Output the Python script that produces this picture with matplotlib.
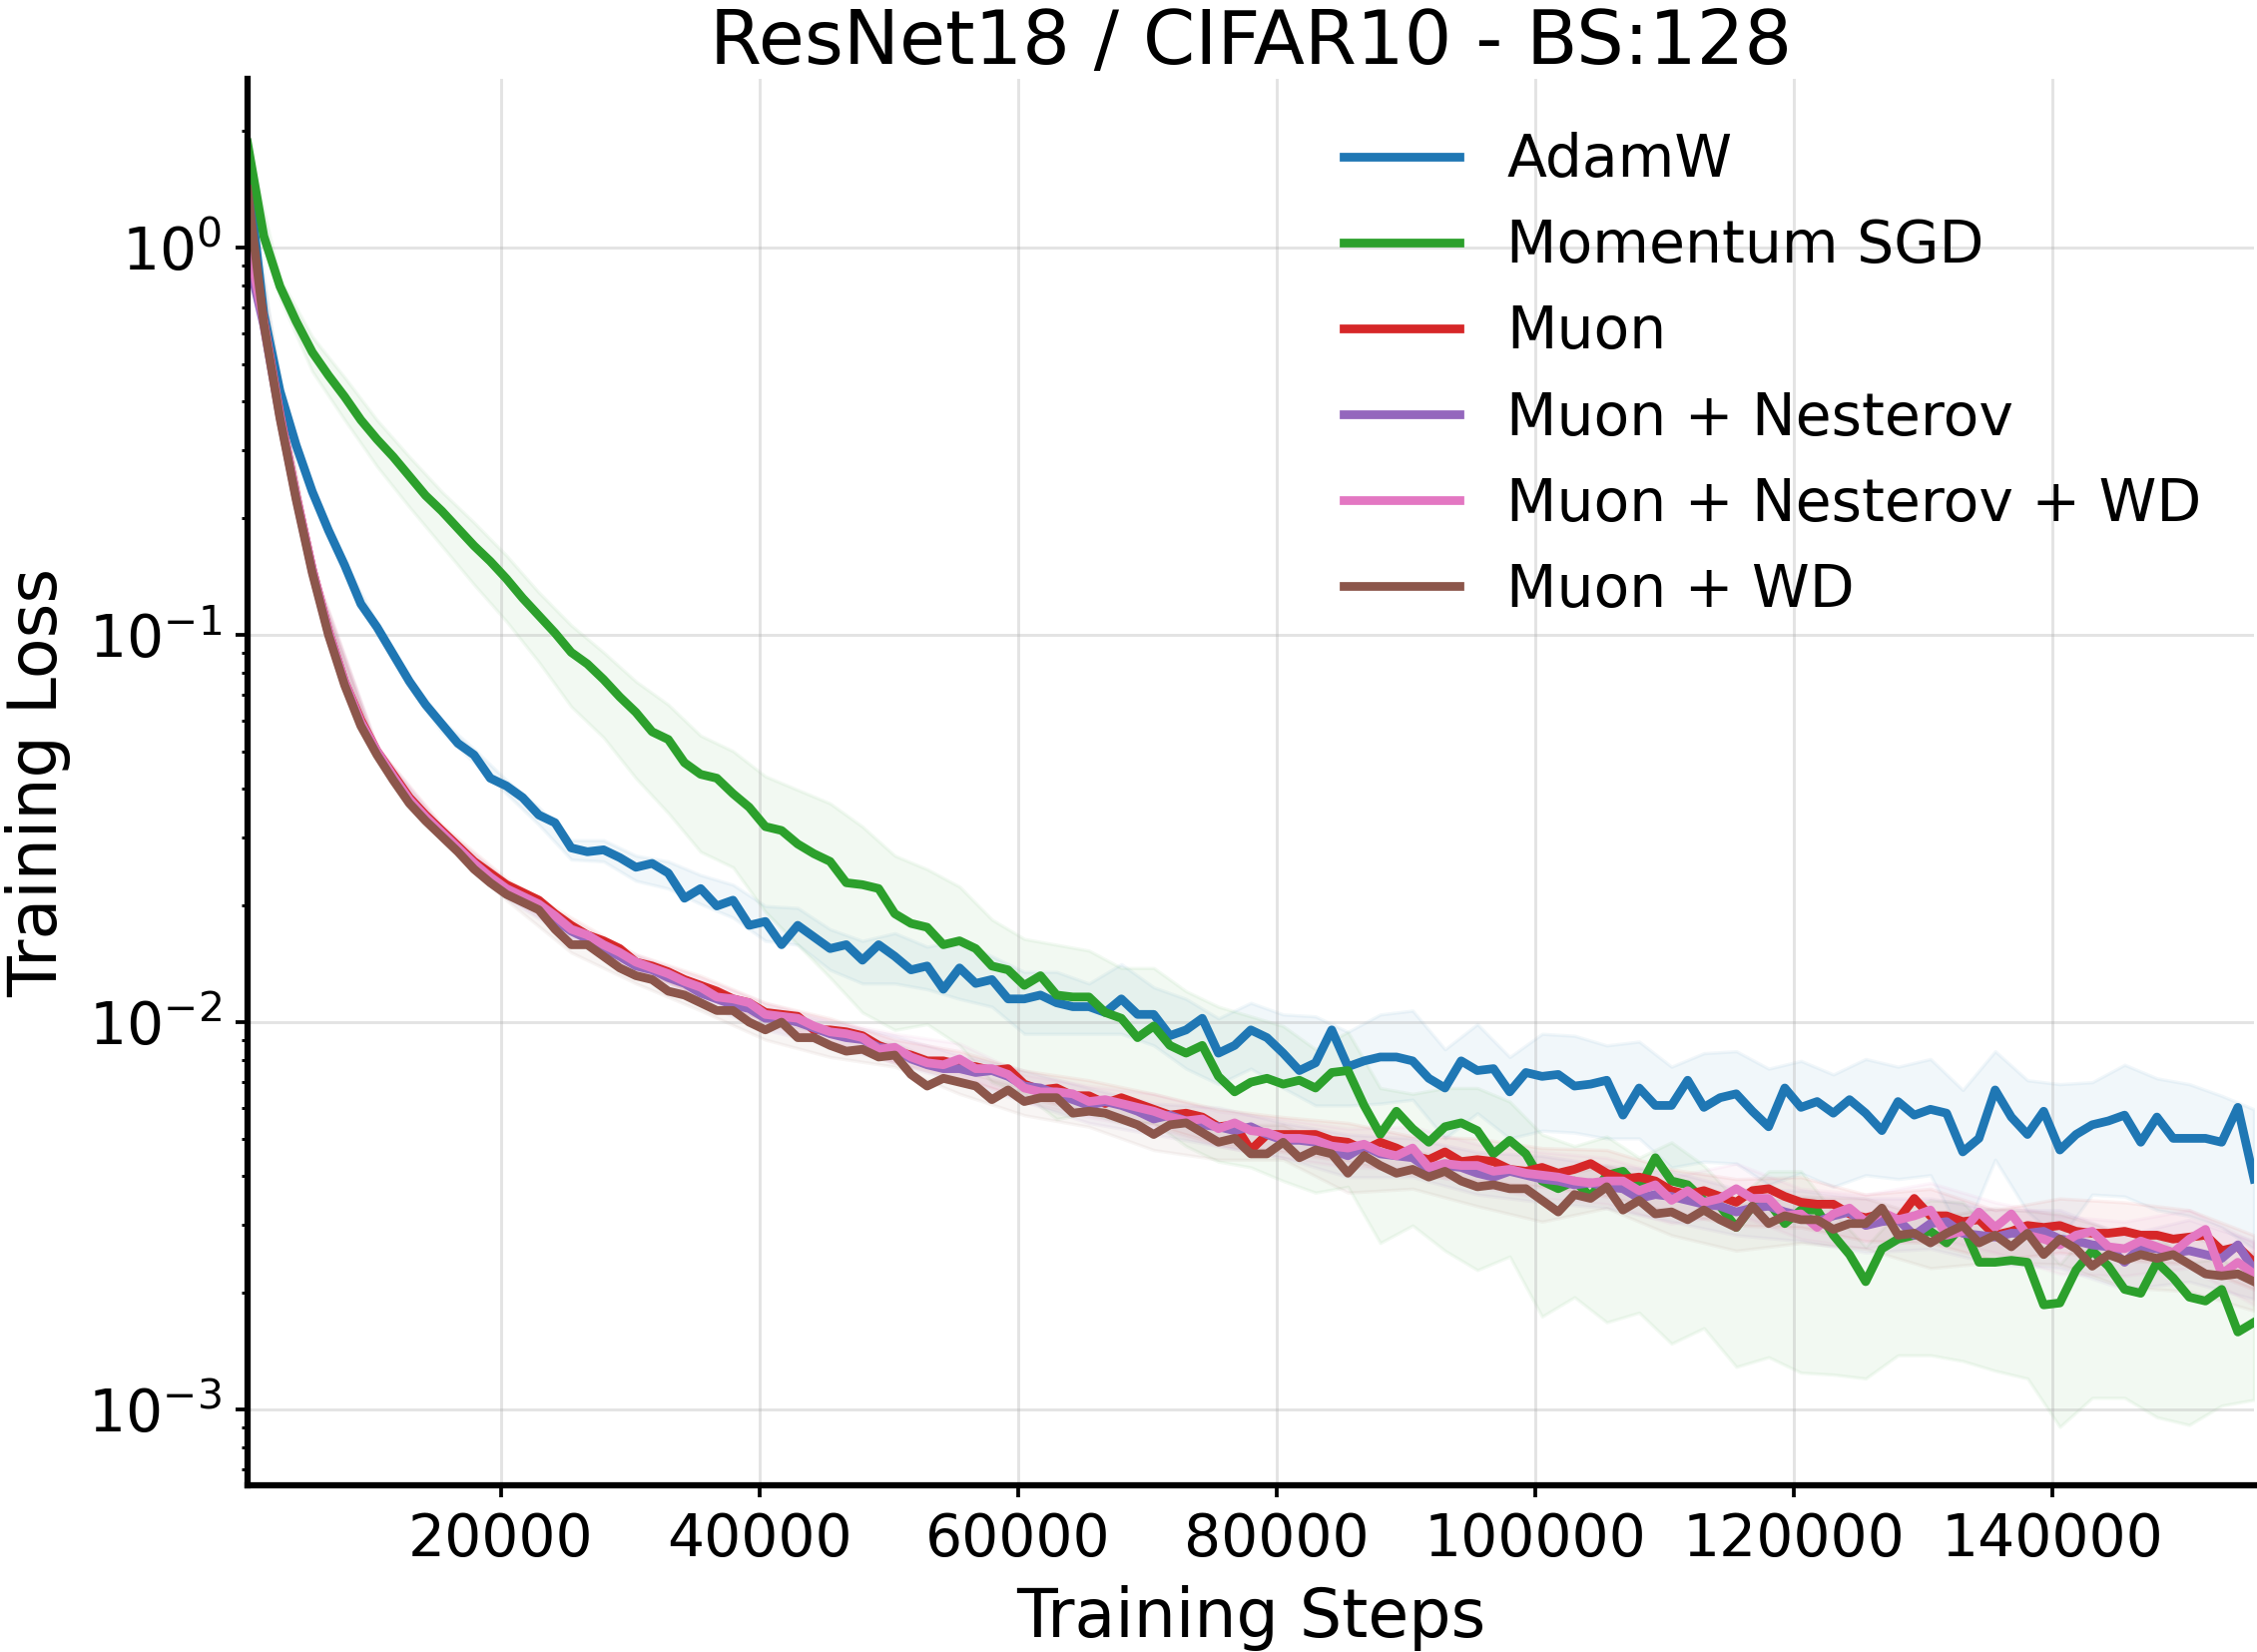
import numpy as np
import matplotlib
matplotlib.use("Agg")
import matplotlib.pyplot as plt

# ---------------- data (training loss, stored as log10 values) ----------------
steps = np.linspace(391, 155600, 125)

labels = ["AdamW", "Momentum SGD", "Muon", "Muon + Nesterov",
          "Muon + Nesterov + WD", "Muon + WD"]
colors = ["#1f77b4", "#2ca02c", "#d62728", "#9467bd", "#e377c2", "#8c564b"]

adamw_log = [
    0.20, -0.17, -0.37, -0.51, -0.63, -0.73, -0.82, -0.92, -0.98, -1.05,
    -1.12, -1.18, -1.23, -1.28, -1.31, -1.37, -1.39, -1.42, -1.465, -1.485,
    -1.55, -1.56, -1.555, -1.575, -1.60, -1.59, -1.615, -1.68, -1.655, -1.70,
    -1.685, -1.75, -1.74, -1.80, -1.75, -1.78, -1.81, -1.80, -1.84, -1.80,
    -1.83, -1.865, -1.855, -1.915, -1.86, -1.90, -1.89, -1.94, -1.94, -1.93,
    -1.95, -1.96, -1.96, -1.975, -1.94, -1.98, -1.98, -2.035, -2.02, -1.99,
    -2.08, -2.06, -2.02, -2.04, -2.08, -2.125, -2.105, -2.02, -2.115, -2.10,
    -2.09, -2.09, -2.10, -2.145, -2.17, -2.10, -2.125, -2.12, -2.18, -2.13,
    -2.14, -2.135, -2.165, -2.16, -2.15, -2.24, -2.17, -2.215, -2.215, -2.15,
    -2.22, -2.195, -2.185, -2.23, -2.27, -2.17, -2.22, -2.205, -2.235, -2.20,
    -2.235, -2.28, -2.205, -2.24, -2.225, -2.235, -2.335, -2.30, -2.175, -2.245,
    -2.29, -2.23, -2.33, -2.29, -2.265, -2.255, -2.24, -2.31, -2.245, -2.30,
    -2.30, -2.30, -2.31, -2.22, -2.405]

sgd_log = [
    0.27, 0.03, -0.10, -0.19, -0.27, -0.33, -0.385, -0.445, -0.495, -0.54,
    -0.59, -0.64, -0.68, -0.725, -0.77, -0.81, -0.855, -0.905, -0.95, -0.995,
    -1.045, -1.075, -1.115, -1.16, -1.20, -1.25, -1.27, -1.33, -1.36, -1.37,
    -1.41, -1.445, -1.495, -1.505, -1.54, -1.565, -1.585, -1.64, -1.645, -1.655,
    -1.72, -1.745, -1.755, -1.80, -1.79, -1.81, -1.855, -1.865, -1.905, -1.88,
    -1.93, -1.935, -1.935, -1.975, -1.99, -2.04, -2.01, -2.06, -2.08, -2.06,
    -2.14, -2.18, -2.155, -2.145, -2.16, -2.15, -2.17, -2.13, -2.125, -2.215,
    -2.29, -2.23, -2.275, -2.31, -2.27, -2.26, -2.28, -2.34, -2.305, -2.34,
    -2.41, -2.43, -2.41, -2.45, -2.395, -2.385, -2.43, -2.35, -2.41, -2.42,
    -2.46, -2.475, -2.53, -2.475, -2.465, -2.52, -2.485, -2.485, -2.55, -2.60,
    -2.67, -2.585, -2.56, -2.55, -2.54, -2.57, -2.525, -2.62, -2.62, -2.615,
    -2.62, -2.73, -2.725, -2.64, -2.59, -2.63, -2.69, -2.70, -2.62, -2.66,
    -2.71, -2.72, -2.69, -2.80, -2.775]

muon_log = [
    0.10, -0.19, -0.43, -0.64, -0.83, -0.99, -1.12, -1.22, -1.30, -1.36,
    -1.42, -1.465, -1.505, -1.545, -1.585, -1.615, -1.645, -1.665, -1.685, -1.72,
    -1.75, -1.775, -1.79, -1.81, -1.845, -1.855, -1.87, -1.89, -1.905, -1.92,
    -1.94, -1.95, -1.975, -1.98, -1.985, -2.02, -2.02, -2.025, -2.035, -2.06,
    -2.075, -2.085, -2.10, -2.10, -2.11, -2.115, -2.125, -2.12, -2.16, -2.175,
    -2.17, -2.19, -2.19, -2.21, -2.195, -2.21, -2.225, -2.24, -2.235, -2.245,
    -2.27, -2.265, -2.33, -2.29, -2.29, -2.29, -2.29, -2.305, -2.31, -2.33,
    -2.31, -2.325, -2.345, -2.355, -2.335, -2.36, -2.355, -2.36, -2.38, -2.385,
    -2.375, -2.39, -2.38, -2.365, -2.39, -2.405, -2.40, -2.41, -2.435, -2.445,
    -2.435, -2.45, -2.465, -2.435, -2.43, -2.45, -2.465, -2.47, -2.47, -2.495,
    -2.505, -2.495, -2.51, -2.455, -2.50, -2.50, -2.515, -2.51, -2.55, -2.54,
    -2.525, -2.53, -2.525, -2.54, -2.545, -2.545, -2.54, -2.55, -2.55, -2.56,
    -2.555, -2.55, -2.59, -2.58, -2.62]

muon_nest_log = [
    -0.02, -0.20, -0.435, -0.645, -0.835, -0.995, -1.125, -1.23, -1.305, -1.37,
    -1.43, -1.475, -1.515, -1.555, -1.595, -1.63, -1.66, -1.68, -1.70, -1.735,
    -1.765, -1.785, -1.81, -1.83, -1.855, -1.865, -1.885, -1.90, -1.925, -1.94,
    -1.955, -1.965, -1.99, -1.99, -2.00, -2.015, -2.03, -2.04, -2.045, -2.065,
    -2.07, -2.095, -2.11, -2.12, -2.12, -2.13, -2.125, -2.14, -2.165, -2.17,
    -2.185, -2.20, -2.215, -2.205, -2.215, -2.23, -2.25, -2.24, -2.255, -2.265,
    -2.27, -2.28, -2.27, -2.29, -2.305, -2.305, -2.31, -2.33, -2.345, -2.32,
    -2.34, -2.345, -2.35, -2.38, -2.37, -2.375, -2.39, -2.40, -2.385, -2.395,
    -2.405, -2.41, -2.42, -2.415, -2.425, -2.43, -2.455, -2.445, -2.45, -2.46,
    -2.47, -2.475, -2.49, -2.48, -2.475, -2.49, -2.50, -2.515, -2.50, -2.49,
    -2.525, -2.515, -2.51, -2.55, -2.52, -2.515, -2.545, -2.55, -2.555, -2.545,
    -2.545, -2.54, -2.56, -2.565, -2.575, -2.58, -2.62, -2.58, -2.585, -2.595,
    -2.59, -2.60, -2.61, -2.575, -2.64]

muon_nest_wd_log = [
    0.02, -0.19, -0.43, -0.64, -0.83, -0.99, -1.12, -1.225, -1.30, -1.365,
    -1.425, -1.47, -1.51, -1.55, -1.59, -1.625, -1.655, -1.675, -1.695, -1.725,
    -1.76, -1.775, -1.80, -1.82, -1.845, -1.86, -1.875, -1.895, -1.91, -1.935,
    -1.94, -1.95, -1.98, -1.985, -1.99, -2.01, -2.025, -2.03, -2.04, -2.07,
    -2.065, -2.09, -2.105, -2.11, -2.095, -2.12, -2.12, -2.135, -2.17, -2.18,
    -2.18, -2.185, -2.205, -2.20, -2.21, -2.22, -2.23, -2.245, -2.255, -2.25,
    -2.275, -2.26, -2.28, -2.285, -2.30, -2.30, -2.305, -2.32, -2.325, -2.315,
    -2.335, -2.345, -2.325, -2.375, -2.365, -2.37, -2.37, -2.385, -2.38, -2.39,
    -2.395, -2.40, -2.41, -2.415, -2.41, -2.41, -2.435, -2.42, -2.46, -2.435,
    -2.465, -2.455, -2.43, -2.455, -2.455, -2.50, -2.495, -2.53, -2.495, -2.48,
    -2.515, -2.49, -2.51, -2.50, -2.485, -2.55, -2.54, -2.49, -2.53, -2.495,
    -2.55, -2.56, -2.575, -2.55, -2.54, -2.58, -2.585, -2.565, -2.58, -2.595,
    -2.56, -2.535, -2.65, -2.62, -2.65]

muon_wd_log = [
    0.15, -0.195, -0.44, -0.65, -0.84, -1.00, -1.13, -1.235, -1.31, -1.375,
    -1.435, -1.48, -1.52, -1.56, -1.605, -1.64, -1.67, -1.69, -1.71, -1.76,
    -1.80, -1.80, -1.83, -1.86, -1.88, -1.89, -1.92, -1.93, -1.95, -1.97,
    -1.97, -2.00, -2.02, -2.00, -2.04, -2.04, -2.06, -2.075, -2.07, -2.09,
    -2.085, -2.135, -2.165, -2.145, -2.155, -2.165, -2.20, -2.175, -2.205, -2.195,
    -2.195, -2.235, -2.23, -2.235, -2.25, -2.265, -2.29, -2.265, -2.26, -2.285,
    -2.31, -2.30, -2.34, -2.34, -2.31, -2.35, -2.33, -2.34, -2.39, -2.345,
    -2.37, -2.39, -2.38, -2.40, -2.385, -2.41, -2.425, -2.42, -2.43, -2.43,
    -2.46, -2.49, -2.445, -2.455, -2.425, -2.485, -2.46, -2.495, -2.49, -2.51,
    -2.485, -2.51, -2.53, -2.475, -2.52, -2.50, -2.51, -2.51, -2.535, -2.52,
    -2.52, -2.48, -2.55, -2.545, -2.57, -2.545, -2.525, -2.57, -2.55, -2.58,
    -2.545, -2.60, -2.56, -2.585, -2.63, -2.60, -2.615, -2.60, -2.61, -2.60,
    -2.625, -2.65, -2.655, -2.65, -2.67]

# band spread (log10 decades) above / below the mean, every 2nd logged point
adamw_up = [
    0.01, 0.01, 0.01, 0.01, 0.01, 0.01, 0.01, 0.015, 0.015, 0.02,
    0.02, 0.025, 0.03, 0.03, 0.035, 0.04, 0.04, 0.045, 0.05, 0.05,
    0.06, 0.05, 0.07, 0.06, 0.07, 0.08, 0.06, 0.09, 0.07, 0.08,
    0.09, 0.07, 0.10, 0.12, 0.09, 0.11, 0.13, 0.10, 0.12, 0.09,
    0.11, 0.13, 0.09, 0.12, 0.10, 0.14, 0.11, 0.15, 0.12, 0.10,
    0.14, 0.09, 0.13, 0.16, 0.10, 0.14, 0.17, 0.11, 0.13, 0.10,
    0.14, 0.12, 0.18]
adamw_dn = [
    0.01, 0.01, 0.01, 0.015, 0.015, 0.015, 0.02, 0.02, 0.02, 0.025,
    0.03, 0.03, 0.035, 0.04, 0.04, 0.045, 0.05, 0.05, 0.055, 0.06,
    0.07, 0.06, 0.08, 0.07, 0.09, 0.08, 0.07, 0.09, 0.08, 0.10,
    0.08, 0.10, 0.09, 0.11, 0.10, 0.12, 0.10, 0.13, 0.11, 0.12,
    0.14, 0.12, 0.15, 0.13, 0.16, 0.14, 0.18, 0.15, 0.17, 0.19,
    0.16, 0.20, 0.17, 0.22, 0.18, 0.20, 0.23, 0.18, 0.21, 0.24,
    0.20, 0.22, 0.18]
sgd_up = [
    0.0, 0.02, 0.04, 0.05, 0.05, 0.05, 0.05, 0.06, 0.06, 0.06,
    0.07, 0.07, 0.08, 0.09, 0.10, 0.11, 0.13, 0.14, 0.15, 0.15,
    0.15, 0.15, 0.14, 0.12, 0.12, 0.13, 0.12, 0.13, 0.15, 0.16,
    0.18, 0.17, 0.15, 0.10, 0.10, 0.12, 0.09, 0.10, 0.11, 0.10,
    0.12, 0.09, 0.10, 0.08, 0.10, 0.09, 0.07, 0.08, 0.10, 0.06,
    0.09, 0.07, 0.08, 0.06, 0.07, 0.09, 0.10, 0.06, 0.08, 0.07,
    0.09, 0.08, 0.10]
sgd_dn = [
    0.0, 0.03, 0.05, 0.06, 0.07, 0.08, 0.09, 0.10, 0.11, 0.12,
    0.14, 0.15, 0.17, 0.19, 0.20, 0.19, 0.22, 0.26, 0.30, 0.33,
    0.30, 0.25, 0.27, 0.30, 0.28, 0.32, 0.30, 0.27, 0.25, 0.24,
    0.22, 0.22, 0.25, 0.27, 0.30, 0.28, 0.25, 0.32, 0.36, 0.30,
    0.35, 0.30, 0.38, 0.32, 0.42, 0.33, 0.36, 0.40, 0.42, 0.36,
    0.25, 0.30, 0.32, 0.35, 0.28, 0.30, 0.32, 0.38, 0.28, 0.40,
    0.33, 0.30, 0.20]
# symmetric band half-widths (log10 decades), every 4th logged point
muon_w = [0.0, 0.01, 0.01, 0.015, 0.015, 0.02, 0.02, 0.025, 0.025, 0.03,
          0.03, 0.035, 0.035, 0.04, 0.04, 0.045, 0.045, 0.05, 0.05, 0.055,
          0.05, 0.06, 0.055, 0.06, 0.065, 0.06, 0.07, 0.065, 0.07, 0.075,
          0.07, 0.07]
muon_nest_w = [0.0, 0.01, 0.015, 0.015, 0.02, 0.02, 0.025, 0.025, 0.03, 0.03,
               0.035, 0.035, 0.04, 0.045, 0.04, 0.05, 0.045, 0.055, 0.05, 0.055,
               0.06, 0.055, 0.065, 0.06, 0.065, 0.07, 0.065, 0.07, 0.075, 0.07,
               0.08, 0.075]
muon_nest_wd_w = [0.0, 0.01, 0.01, 0.015, 0.02, 0.02, 0.02, 0.025, 0.03, 0.03,
                  0.035, 0.04, 0.035, 0.04, 0.045, 0.045, 0.05, 0.05, 0.055, 0.055,
                  0.06, 0.06, 0.06, 0.065, 0.065, 0.07, 0.07, 0.065, 0.075, 0.07,
                  0.075, 0.08]
muon_wd_w = [0.0, 0.01, 0.01, 0.01, 0.015, 0.02, 0.02, 0.02, 0.025, 0.03,
             0.03, 0.03, 0.035, 0.04, 0.04, 0.045, 0.045, 0.05, 0.05, 0.05,
             0.055, 0.055, 0.06, 0.06, 0.06, 0.065, 0.065, 0.07, 0.065, 0.07,
             0.07, 0.075]

means = [adamw_log, sgd_log, muon_log, muon_nest_log, muon_nest_wd_log, muon_wd_log]
asym_bands = {0: (adamw_up, adamw_dn), 1: (sgd_up, sgd_dn)}
sym_bands = {2: muon_w, 3: muon_nest_w, 4: muon_nest_wd_w, 5: muon_wd_w}

# ---------------- figure ----------------
W, H, DPI = 2261, 1655, 300
fig = plt.figure(figsize=(W / DPI + 1e-4, H / DPI + 1e-4), dpi=DPI)
ax = fig.add_axes([248 / W, 1 - 1488 / H, (2258 - 248) / W, (1488 - 79.5) / H])

for i, (lab, col, m) in enumerate(zip(labels, colors, means)):
    m = np.asarray(m)
    if i in asym_bands:
        up, dn = asym_bands[i]
        xs = steps[::2]
        ms = m[::2]
        lo = 10 ** (ms - np.asarray(dn))
        hi = 10 ** (ms + np.asarray(up))
    else:
        w = np.asarray(sym_bands[i])
        xs = steps[::4]
        ms = m[::4]
        lo = 10 ** (ms - w)
        hi = 10 ** (ms + w)
    ax.fill_between(xs, lo, hi, color=col, alpha=0.06, linewidth=0.8)

for lab, col, m in zip(labels, colors, means):
    ax.plot(steps, 10 ** np.asarray(m), color=col, lw=2.1, label=lab)

ax.set_yscale("log")
ax.set_xlim(steps[0], steps[-1])
ax.set_ylim(6.37e-4, 2.72)
ax.set_xticks([20000, 40000, 60000, 80000, 100000, 120000, 140000])

for s in ["top", "right"]:
    ax.spines[s].set_visible(False)
for s in ["left", "bottom"]:
    ax.spines[s].set_linewidth(1.5)

ax.grid(True, which="major", color="#b0b0b0", alpha=0.35, linewidth=0.7)
ax.tick_params(axis="both", which="major", labelsize=14, length=2.8, width=0.9)
ax.tick_params(axis="both", which="minor", length=1.4, width=0.7)

ax.set_xlabel("Training Steps", fontsize=16, labelpad=4)
ax.set_ylabel("Training Loss", fontsize=16)
ax.set_title("ResNet18 / CIFAR10 - BS:128", fontsize=18, pad=2)

ax.legend(loc="upper right", frameon=False, fontsize=14,
          handlelength=2.0, labelspacing=0.5)

fig.savefig("out.png", dpi=DPI)
